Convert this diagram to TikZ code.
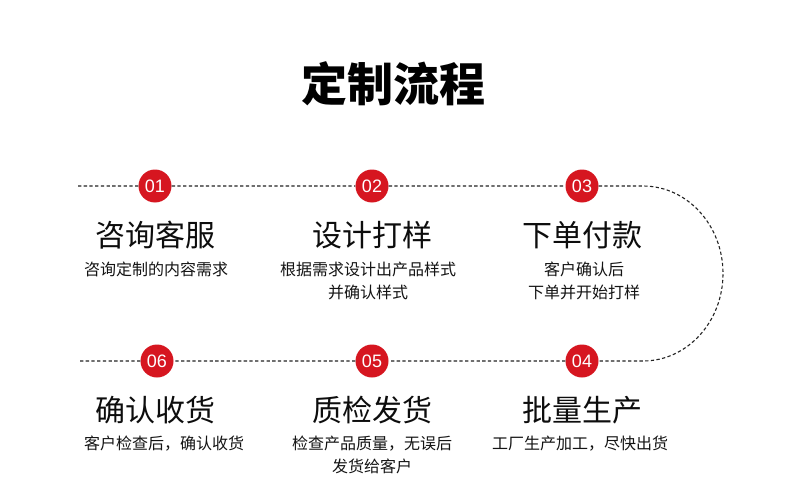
\documentclass[tikz,border=0pt]{standalone}
\usepackage{fontspec}
\usetikzlibrary{positioning}
\newfontfamily\cjk{Noto Sans CJK SC}
\newfontfamily\numfont{Liberation Sans}
\definecolor{StepRed}{RGB}{214, 22, 32}
\definecolor{LineGray}{RGB}{35, 35, 35}

\begin{document}
\begin{tikzpicture}[x=1pt, y=1pt,
    dashline/.style={draw=LineGray, line width=1.1pt, dash pattern=on 3.3pt off 2.4pt},
    badge/.style={circle, fill=StepRed, text=white, minimum size=33pt, inner sep=0pt,
        font=\numfont\fontsize{18}{18}\selectfont},
    head/.style={font=\cjk\fontsize{30}{30}\selectfont, text=black!95},
    desc/.style={anchor=north, inner sep=0pt, align=center, text=black!92,
        font=\cjk\fontsize{16}{23}\selectfont}]
    \fill[white] (0,0) rectangle (790,-495);
    \useasboundingbox (0,0) rectangle (790,-495);
    \node[font=\cjk\bfseries\fontsize{46}{46}\selectfont] (title) at (393,-84) {定制流程};
    \coordinate (topstart) at (78,-186);
    \coordinate (botstart) at (78,-361);
    \coordinate (bendtop) at (643,-186);
    \foreach \n/\x/\y in {01/155/-186, 02/372/-186, 03/582/-186, 04/582/-361, 05/372/-361, 06/157/-361}
        \node[badge] (s\n) at (\x,\y) {\n};
    \draw[dashline] (topstart) -- (s01) -- (s02) -- (s03) -- (bendtop)
        arc[start angle=90, end angle=-90, x radius=80, y radius=87.5] -- (s04) -- (s05) -- (s06) -- (botstart);
    \node[head] (h01) at (155,-235) {咨询客服};
    \node[head] (h02) at (372,-235) {设计打样};
    \node[head] (h03) at (582,-235) {下单付款};
    \node[head] (h04) at (582,-410) {批量生产};
    \node[head] (h05) at (372,-410) {质检发货};
    \node[head] (h06) at (155,-410) {确认收货};
    \node[desc] (d01) at (156,-262) {咨询定制的内容需求};
    \node[desc] (d02) at (368,-262) {根据需求设计出产品样式\\并确认样式};
    \node[desc] (d03) at (584,-262) {客户确认后\\下单并开始打样};
    \node[desc] (d04) at (580,-436) {工厂生产加工，尽快出货};
    \node[desc] (d05) at (372,-436) {检查产品质量，无误后\\发货给客户};
    \node[desc] (d06) at (164,-436) {客户检查后，确认收货};
\end{tikzpicture}
\end{document}
